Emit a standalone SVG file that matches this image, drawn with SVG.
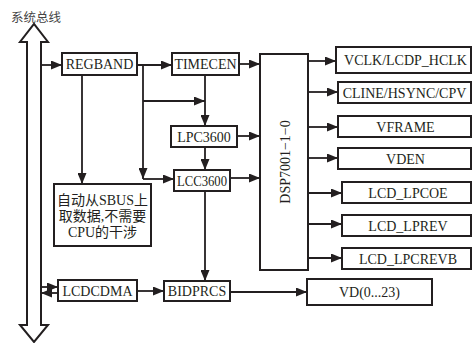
<svg xmlns="http://www.w3.org/2000/svg" width="472" height="343" viewBox="0 0 472 343">
<style>
.box{fill:#fff;stroke:#231f20;stroke-width:2}
.t{font-family:"Liberation Serif","Noto Sans CJK SC",serif;font-size:14px;fill:#231f20;text-anchor:middle;dominant-baseline:central}
.c{fill:none;stroke:#231f20;stroke-width:1.8}
</style>
<defs>
<marker id="ah" markerUnits="userSpaceOnUse" markerWidth="11" markerHeight="9" refX="11" refY="4.5" orient="auto">
<path d="M0,0 L11,4.5 L0,9 z" fill="#231f20"/>
</marker>
</defs>
<rect width="472" height="343" fill="#fff"/>
<g id="title"><text x="36" y="16" style="font-family:'Noto Sans CJK SC',sans-serif;font-size:12.5px;fill:#444;text-anchor:middle;dominant-baseline:central">系统总线</text></g>
<g id="bus"><polygon points="27,42 20,42 34,24 48,42 41,42 41,325 48,325 34,342 20,325 27,325" fill="#fff" stroke="#231f20" stroke-width="2"/></g>
<g id="connectors">
<path class="c" d="M41,65 H62" marker-end="url(#ah)"/>
<path class="c" d="M137,65 H172" marker-end="url(#ah)"/>
<path class="c" d="M239,64 H260" marker-end="url(#ah)"/>
<path class="c" d="M143,65 V179" marker-end="url(#ah)"/>
<path class="c" d="M143,179 H174" marker-end="url(#ah)"/>
<path class="c" d="M143,101 H205" marker-end="url(#ah)"/>
<path class="c" d="M205,75 V126" marker-end="url(#ah)"/>
<path class="c" d="M205,147 V170" marker-end="url(#ah)"/>
<path class="c" d="M237,136 H260" marker-end="url(#ah)"/>
<path class="c" d="M230,178 H260" marker-end="url(#ah)"/>
<path class="c" d="M205,191 V281" marker-end="url(#ah)"/>
<path class="c" d="M82,75 V184" marker-end="url(#ah)"/>
<path class="c" d="M41,287 H58" marker-end="url(#ah)"/>
<path class="c" d="M58,293 H41" marker-end="url(#ah)"/>
<path class="c" d="M137,291 H164" marker-end="url(#ah)"/>
<path class="c" d="M230,292 H307" marker-end="url(#ah)"/>
<path class="c" d="M308,61 H336" marker-end="url(#ah)"/>
<path class="c" d="M308,92 H338" marker-end="url(#ah)"/>
<path class="c" d="M308,127 H338" marker-end="url(#ah)"/>
<path class="c" d="M308,158 H338" marker-end="url(#ah)"/>
<path class="c" d="M308,193 H342" marker-end="url(#ah)"/>
<path class="c" d="M308,224 H342" marker-end="url(#ah)"/>
<path class="c" d="M308,258 H342" marker-end="url(#ah)"/>
</g>
<g id="regband"><rect class="box" x="62" y="53" width="75" height="22"/><text class="t" x="99.5" y="64.5">REGBAND</text></g>
<g id="timecen"><rect class="box" x="172" y="53" width="67" height="22"/><text class="t" x="205.5" y="64.5">TIMECEN</text></g>
<g id="lpc3600"><rect class="box" x="171" y="126" width="66" height="21"/><text class="t" x="204" y="137">LPC3600</text></g>
<g id="lcc3600"><rect class="box" x="174" y="170" width="56" height="21"/><text class="t" x="202" y="181" textLength="50" lengthAdjust="spacingAndGlyphs">LCC3600</text></g>
<g id="note"><rect class="box" x="54" y="184" width="97" height="62"/>
<text class="t" x="102.5" y="200">自动从SBUS上</text>
<text class="t" x="102.5" y="216.5">取数据,不需要</text>
<text class="t" x="102.5" y="232.5">CPU的干涉</text></g>
<g id="lcdcdma"><rect class="box" x="58" y="280" width="79" height="21"/><text class="t" x="97.5" y="291">LCDCDMA</text></g>
<g id="bidprcs"><rect class="box" x="164" y="281" width="66" height="20"/><text class="t" x="197" y="291.5">BIDPRCS</text></g>
<g id="vd"><rect class="box" x="307" y="279" width="125" height="26"/><text class="t" x="369.5" y="292.5">VD(0...23)</text></g>
<g id="dsp"><rect class="box" x="260" y="54" width="48" height="216"/><text class="t" transform="translate(285,162) rotate(-90)" x="0" y="0">DSP7001−1−0</text></g>
<g id="vclk"><rect class="box" x="336" y="47" width="135" height="26"/><text class="t" x="405.5" y="60.5">VCLK/LCDP_HCLK</text></g>
<g id="cline"><rect class="box" x="338" y="82" width="133" height="21"/><text class="t" x="404.5" y="93">CLINE/HSYNC/CPV</text></g>
<g id="vframe"><rect class="box" x="338" y="116" width="133" height="21"/><text class="t" x="405.5" y="127">VFRAME</text></g>
<g id="vden"><rect class="box" x="338" y="148" width="133" height="21"/><text class="t" x="405.5" y="159">VDEN</text></g>
<g id="lpcoe"><rect class="box" x="342" y="182" width="129" height="21"/><text class="t" x="408" y="193">LCD_LPCOE</text></g>
<g id="lprev"><rect class="box" x="342" y="215" width="129" height="21"/><text class="t" x="408" y="226">LCD_LPREV</text></g>
<g id="lpcrevb"><rect class="box" x="342" y="248" width="129" height="21"/><text class="t" x="408" y="259">LCD_LPCREVB</text></g>
</svg>
